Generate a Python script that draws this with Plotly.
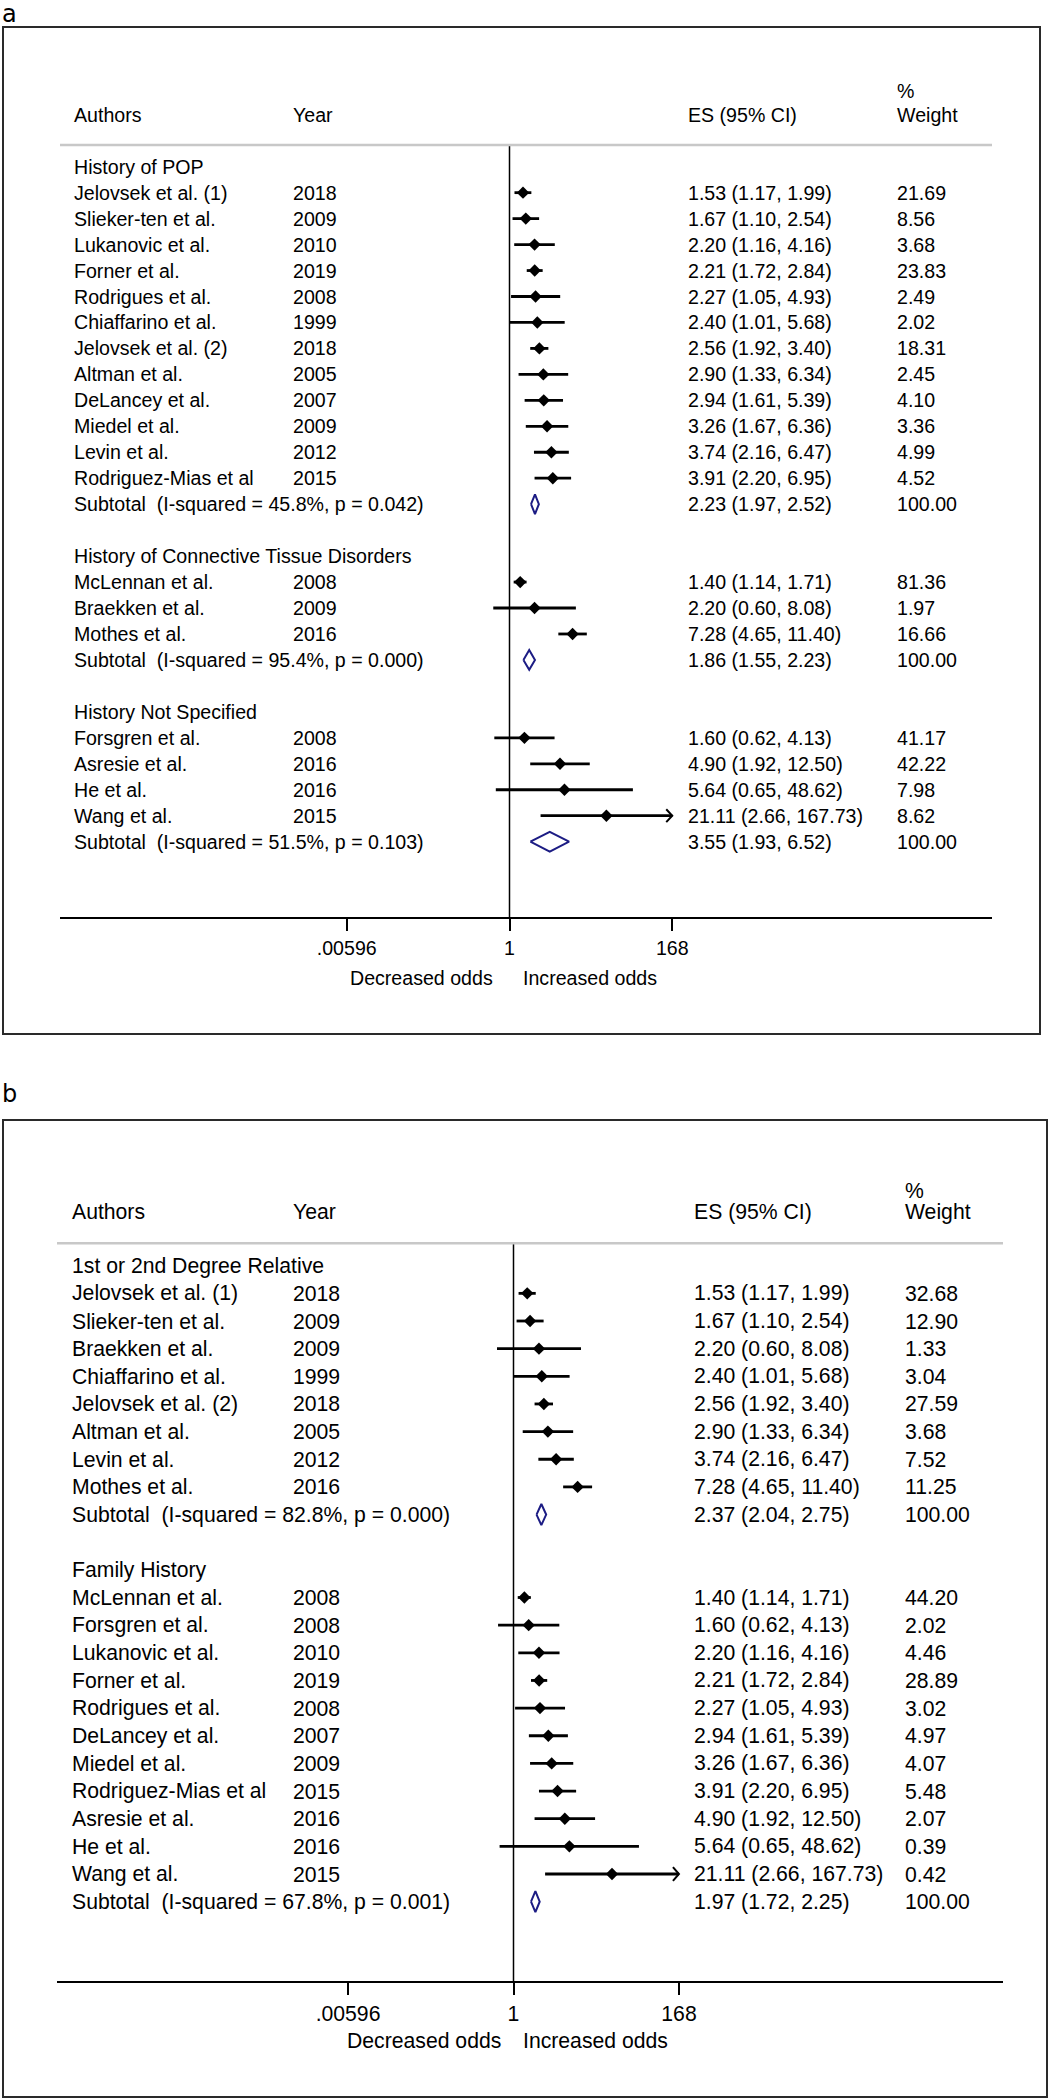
import math
import plotly.graph_objects as go

W, H = 1050, 2100
FONT = "Liberation Sans, Arial, Helvetica, sans-serif"
TAG_FONT = "DejaVu Sans, Open Sans, sans-serif"
NAVY = "#1c1c84"

# ---------------- Panel a data ----------------
a_titles = ["History of POP", "History of Connective Tissue Disorders", "History Not Specified"]
a_authors = [
    ["Jelovsek et al. (1)", "Slieker-ten et al.", "Lukanovic et al.", "Forner et al.",
     "Rodrigues et al.", "Chiaffarino et al.", "Jelovsek et al. (2)", "Altman et al.",
     "DeLancey et al.", "Miedel et al.", "Levin et al.", "Rodriguez-Mias et al"],
    ["McLennan et al.", "Braekken et al.", "Mothes et al."],
    ["Forsgren et al.", "Asresie et al.", "He et al.", "Wang et al."],
]
a_years = [[2018, 2009, 2010, 2019, 2008, 1999, 2018, 2005, 2007, 2009, 2012, 2015],
           [2008, 2009, 2016],
           [2008, 2016, 2016, 2015]]
a_es = [[1.53, 1.67, 2.20, 2.21, 2.27, 2.40, 2.56, 2.90, 2.94, 3.26, 3.74, 3.91],
        [1.40, 2.20, 7.28],
        [1.60, 4.90, 5.64, 21.11]]
a_lo = [[1.17, 1.10, 1.16, 1.72, 1.05, 1.01, 1.92, 1.33, 1.61, 1.67, 2.16, 2.20],
        [1.14, 0.60, 4.65],
        [0.62, 1.92, 0.65, 2.66]]
a_hi = [[1.99, 2.54, 4.16, 2.84, 4.93, 5.68, 3.40, 6.34, 5.39, 6.36, 6.47, 6.95],
        [1.71, 8.08, 11.40],
        [4.13, 12.50, 48.62, 167.73]]
a_weight = [[21.69, 8.56, 3.68, 23.83, 2.49, 2.02, 18.31, 2.45, 4.10, 3.36, 4.99, 4.52],
            [81.36, 1.97, 16.66],
            [41.17, 42.22, 7.98, 8.62]]
a_sub_i2 = [45.8, 95.4, 51.5]
a_sub_p = [0.042, 0.000, 0.103]
a_sub_es = [2.23, 1.86, 3.55]
a_sub_lo = [1.97, 1.55, 1.93]
a_sub_hi = [2.52, 2.23, 6.52]

# ---------------- Panel b data ----------------
b_titles = ["1st or 2nd Degree Relative", "Family History"]
b_authors = [
    ["Jelovsek et al. (1)", "Slieker-ten et al.", "Braekken et al.", "Chiaffarino et al.",
     "Jelovsek et al. (2)", "Altman et al.", "Levin et al.", "Mothes et al."],
    ["McLennan et al.", "Forsgren et al.", "Lukanovic et al.", "Forner et al.",
     "Rodrigues et al.", "DeLancey et al.", "Miedel et al.", "Rodriguez-Mias et al",
     "Asresie et al.", "He et al.", "Wang et al."],
]
b_years = [[2018, 2009, 2009, 1999, 2018, 2005, 2012, 2016],
           [2008, 2008, 2010, 2019, 2008, 2007, 2009, 2015, 2016, 2016, 2015]]
b_es = [[1.53, 1.67, 2.20, 2.40, 2.56, 2.90, 3.74, 7.28],
        [1.40, 1.60, 2.20, 2.21, 2.27, 2.94, 3.26, 3.91, 4.90, 5.64, 21.11]]
b_lo = [[1.17, 1.10, 0.60, 1.01, 1.92, 1.33, 2.16, 4.65],
        [1.14, 0.62, 1.16, 1.72, 1.05, 1.61, 1.67, 2.20, 1.92, 0.65, 2.66]]
b_hi = [[1.99, 2.54, 8.08, 5.68, 3.40, 6.34, 6.47, 11.40],
        [1.71, 4.13, 4.16, 2.84, 4.93, 5.39, 6.36, 6.95, 12.50, 48.62, 167.73]]
b_weight = [[32.68, 12.90, 1.33, 3.04, 27.59, 3.68, 7.52, 11.25],
            [44.20, 2.02, 4.46, 28.89, 3.02, 4.97, 4.07, 5.48, 2.07, 0.39, 0.42]]
b_sub_i2 = [82.8, 67.8]
b_sub_p = [0.000, 0.001]
b_sub_es = [2.37, 1.97]
b_sub_lo = [2.04, 1.72]
b_sub_hi = [2.75, 2.25]

# ---------------- Axis ticks ----------------
tick_vals = [0.00596, 1, 168]
tick_text = [".00596", "1", "168"]
header_cols = ["Authors", "Year", "ES (95% CI)", "Weight"]
odds_labels = ["Decreased odds", "Increased odds"]

# ---------------- Layout geometry (pixels) ----------------
LAY_A = dict(box=(3, 27, 1040, 1034), row0=166.7, rowh=25.96, axis_y=918.3, rule_y=145.0,
             rule_x=(60, 992), x_one=509.5, x_hi=672.3, fs=19.6, cols=(72, 291, 686, 895),
             head_y=115.0, pct_y=90.7, odds_y=977.7, odds_gap=(15, 11), tag="a", tag_y=14.5)
LAY_B = dict(box=(3, 1120, 1047, 2097), row0=1265.7, rowh=27.65, axis_y=1982.3, rule_y=1243.3,
             rule_x=(57, 1003), x_one=513.5, x_hi=679.0, fs=21.2, cols=(70, 291, 692, 903),
             head_y=1211.5, pct_y=1190.7, odds_y=2040.7, odds_gap=(11, 7), tag="b", tag_y=1093.5)

fig = go.Figure()
annotations = []
shapes = []


def add_panel(n, titles, authors, years, es, lo, hi, weight, s_i2, s_p, s_es, s_lo, s_hi, L):
    xa = "x" if n == 1 else f"x{n}"
    ya = "y" if n == 1 else f"y{n}"
    fs = L["fs"]
    px_ln = (L["x_hi"] - L["x_one"]) / math.log(tick_vals[-1])

    def row(py):
        return (py - L["row0"]) / L["rowh"]

    bx0, by0, bx1, by1 = L["box"]
    ln_l = (L["rule_x"][0] - L["x_one"]) / px_ln
    ln_r = (L["rule_x"][1] - L["x_one"]) / px_ln
    fig.update_layout(**{
        ("xaxis" if n == 1 else f"xaxis{n}"): dict(
            type="log", domain=[L["rule_x"][0] / W, L["rule_x"][1] / W],
            range=[ln_l / math.log(10), ln_r / math.log(10)],
            anchor="free", position=1 - L["axis_y"] / H,
            showline=True, linecolor="black", linewidth=2,
            ticks="outside", ticklen=12, tickwidth=2, tickcolor="black",
            tickvals=tick_vals, ticktext=tick_text,
            tickfont=dict(family=FONT, size=fs, color="black"),
            showgrid=False, zeroline=False, fixedrange=True),
        ("yaxis" if n == 1 else f"yaxis{n}"): dict(
            domain=[1 - by1 / H, 1 - by0 / H], range=[row(by1), row(by0)],
            visible=False, showgrid=False, zeroline=False, fixedrange=True),
    })

    # box and header rule
    shapes.append(dict(type="rect", xref="paper", yref="paper", x0=bx0 / W, x1=bx1 / W,
                       y0=1 - by1 / H, y1=1 - by0 / H, line=dict(color="#2a2a2a", width=2)))
    shapes.append(dict(type="line", xref="paper", yref="paper", x0=L["rule_x"][0] / W,
                       x1=L["rule_x"][1] / W, y0=1 - L["rule_y"] / H, y1=1 - L["rule_y"] / H,
                       line=dict(color="#c8c8c8", width=2.5)))

    def txt(x_px, r, s, anchor="left", size=fs):
        annotations.append(dict(xref="paper", yref=ya, x=x_px / W, y=r, text=s,
                                xanchor=anchor, yanchor="middle", showarrow=False,
                                font=dict(family=FONT, size=size, color="black")))

    c_auth, c_year, c_es, c_wt = L["cols"]
    hr = row(L["head_y"])
    txt(c_auth, hr, header_cols[0])
    txt(c_year, hr, header_cols[1])
    txt(c_es, hr, header_cols[2])
    txt(c_wt, hr, header_cols[3])
    txt(c_wt, row(L["pct_y"]), "%")

    # row layout
    pts_x, pts_y = [], []
    ci_x, ci_y = [], []
    arr_x, arr_y = [], []
    dia_x, dia_y = [], []
    r = 0
    hd = 0.38
    for g in range(len(titles)):
        txt(c_auth, r, titles[g])
        r += 1
        for i in range(len(authors[g])):
            txt(c_auth, r, authors[g][i])
            txt(c_year, r, str(years[g][i]))
            txt(c_es, r, f"{es[g][i]:.2f} ({lo[g][i]:.2f}, {hi[g][i]:.2f})")
            txt(c_wt, r, f"{weight[g][i]:.2f}")
            pts_x.append(es[g][i]); pts_y.append(r)
            ci_x += [lo[g][i], hi[g][i], None]; ci_y += [r, r, None]
            if hi[g][i] >= 0.95 * tick_vals[-1]:
                back = hi[g][i] * math.exp(-6 / px_ln)
                arr_x += [back, hi[g][i], back, None]
                arr_y += [r - 0.25, r, r + 0.25, None]
            r += 1
        txt(c_auth, r, f"Subtotal\u00a0 (I-squared = {s_i2[g]:.1f}%, p = {s_p[g]:.3f})")
        txt(c_es, r, f"{s_es[g]:.2f} ({s_lo[g]:.2f}, {s_hi[g]:.2f})")
        txt(c_wt, r, "100.00")
        dia_x += [s_lo[g], s_es[g], s_hi[g], s_es[g], s_lo[g], None]
        dia_y += [r, r - hd, r, r + hd, r, None]
        r += 2

    # null line at 1
    fig.add_trace(go.Scatter(x=[1, 1], y=[row(L["rule_y"]), row(L["axis_y"])], mode="lines",
                             line=dict(color="black", width=1.5), xaxis=xa, yaxis=ya,
                             hoverinfo="skip", showlegend=False))
    fig.add_trace(go.Scatter(x=ci_x, y=ci_y, mode="lines", line=dict(color="black", width=2.8),
                             xaxis=xa, yaxis=ya, hoverinfo="skip", showlegend=False))
    if arr_x:
        fig.add_trace(go.Scatter(x=arr_x, y=arr_y, mode="lines", line=dict(color="black", width=2),
                                 xaxis=xa, yaxis=ya, hoverinfo="skip", showlegend=False))
    fig.add_trace(go.Scatter(x=pts_x, y=pts_y, mode="markers",
                             marker=dict(symbol="diamond", size=9.5, color="black",
                                         line=dict(width=0)),
                             xaxis=xa, yaxis=ya, showlegend=False))
    fig.add_trace(go.Scatter(x=dia_x, y=dia_y, mode="lines", line=dict(color=NAVY, width=2),
                             xaxis=xa, yaxis=ya, hoverinfo="skip", showlegend=False))

    # odds labels
    orow = row(L["odds_y"])
    txt(L["x_one"] - L["odds_gap"][0], orow, odds_labels[0], anchor="right")
    txt(L["x_one"] + L["odds_gap"][1], orow, odds_labels[1], anchor="left")

    # panel tag
    annotations.append(dict(xref="paper", yref="paper", x=1 / W, y=1 - L["tag_y"] / H,
                            text=L["tag"], xanchor="left", yanchor="middle", showarrow=False,
                            borderpad=0,
                            font=dict(family=TAG_FONT, size=24, color="black")))


add_panel(1, a_titles, a_authors, a_years, a_es, a_lo, a_hi, a_weight,
          a_sub_i2, a_sub_p, a_sub_es, a_sub_lo, a_sub_hi, LAY_A)
add_panel(2, b_titles, b_authors, b_years, b_es, b_lo, b_hi, b_weight,
          b_sub_i2, b_sub_p, b_sub_es, b_sub_lo, b_sub_hi, LAY_B)

fig.update_layout(width=W, height=H, margin=dict(l=0, r=0, t=0, b=0),
                  paper_bgcolor="white", plot_bgcolor="rgba(0,0,0,0)",
                  annotations=annotations, shapes=shapes, showlegend=False,
                  font=dict(family=FONT, color="black"))

fig.write_html("out.html", config={"displayModeBar": False, "staticPlot": True},
               post_script="document.body.style.margin='0px';")
